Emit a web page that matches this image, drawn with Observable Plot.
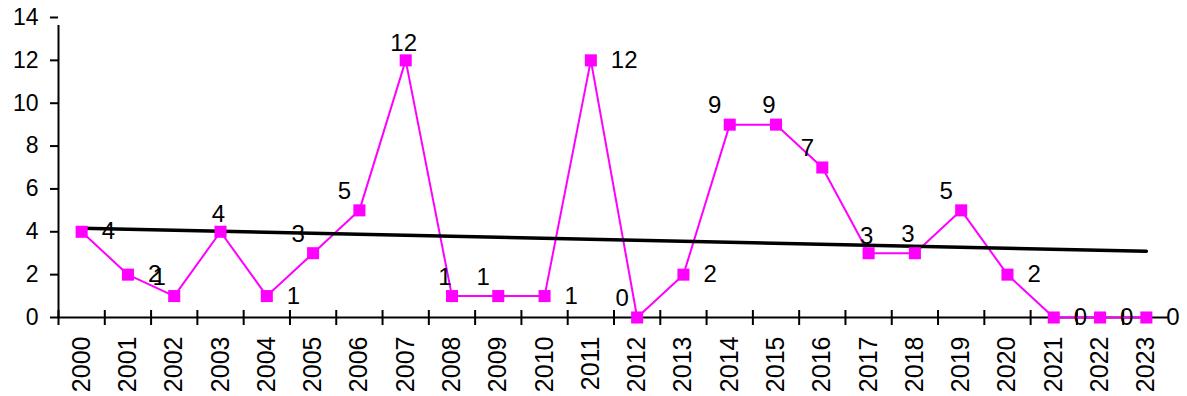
<!DOCTYPE html>
<html><head><meta charset="utf-8">
<script src="https://cdn.jsdelivr.net/npm/d3@7"></script>
<script src="https://cdn.jsdelivr.net/npm/@observablehq/plot@0.6"></script>
<style>body{margin:0;background:#fff}#chart svg{display:block}</style>
</head><body><div id="chart"></div>
<script>
const years = ["2000","2001","2002","2003","2004","2005","2006","2007","2008","2009","2010","2011","2012","2013","2014","2015","2016","2017","2018","2019","2020","2021","2022","2023"];
const values = [4,2,1,4,1,3,5,12,1,1,1,12,0,2,9,9,7,3,3,5,2,0,0,0];
const yTicks = [0,2,4,6,8,10,12,14];
// data label placement: R = right, A = above, AL = above-left, ALn = above, slightly left
const labelPlacement = ["R","R","AL","A","R","AL","AL","A","ALn","AL","R","R","AL","R","AL","ALn","AL","A","ALn","AL","R","R","R","R"];

const placementStyle = {
  R:   {dx: 20, dy: 0, textAnchor: "start"},
  A:   {dx: -2, dy: -17, textAnchor: "middle"},
  AL:  {dx: -15, dy: -19, textAnchor: "middle"},
  ALn: {dx: -7, dy: -19, textAnchor: "middle"}
};

const data = values.map((v, i) => ({i, year: years[i], value: v, place: labelPlacement[i]}));

// least-squares trend line computed from the data
const n = values.length;
const mx = d3.mean(data, d => d.i), my = d3.mean(values);
const slope = d3.sum(data, d => (d.i - mx) * (d.value - my)) / d3.sum(data, d => (d.i - mx) ** 2);
const trend = [0, n - 1].map(i => ({i, value: my + slope * (i - mx)}));

const boundaries = d3.range(n + 1).map(k => k - 0.5);
const font = "'Liberation Sans', Arial, sans-serif";

const marks = [
  // x-axis line and boundary ticks
  Plot.ruleY([0], {x1: -0.5, x2: n - 0.5, stroke: "#000", strokeWidth: 2}),
  Plot.ruleX(boundaries.slice(0, n), {y1: 0, y2: 0, insetTop: -7, insetBottom: -8, stroke: "#000", strokeWidth: 2}),
  // y-axis line
  Plot.ruleX([-0.5], {y1: 0, y2: 14, insetBottom: -8, stroke: "#000", strokeWidth: 2}),
  Plot.axisY({ticks: yTicks, tickSize: 8, tickPadding: 12, strokeWidth: 2, fontSize: 23, label: null}),
  Plot.axisX({ticks: d3.range(n), tickSize: 0, tickPadding: 19, tickRotate: -90, tickFormat: i => years[i], fontSize: 25, label: null}),
  // series
  Plot.line(data, {x: "i", y: "value", stroke: "#FF00FF", strokeWidth: 2}),
  Plot.line(trend, {x: "i", y: "value", stroke: "#000", strokeWidth: 3.5}),
  Plot.dot(data, {x: "i", y: "value", symbol: "square", r: 6.8, fill: "#FF00FF", stroke: null}),
  ...Object.entries(placementStyle).map(([key, s]) =>
    Plot.text(data.filter(d => d.place === key), {x: "i", y: "value", text: d => String(d.value), fontSize: 24, fill: "#000", ...s})
  )
];

const chart = Plot.plot({
  width: 1187,
  height: 396,
  marginLeft: 58,
  marginRight: 18,
  marginTop: 17,
  marginBottom: 79,
  style: {fontFamily: font, background: "#fff", color: "#000", overflow: "visible"},
  x: {type: "linear", domain: [-0.5, n - 0.5], axis: null},
  y: {domain: [0, 14], axis: null},
  marks
});
document.getElementById("chart").append(chart);
</script>
</body></html>
